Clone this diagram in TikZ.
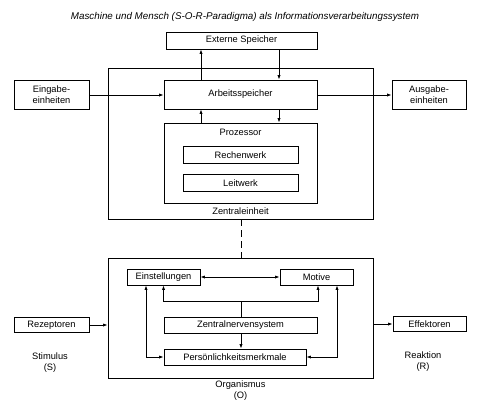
\documentclass[tikz,border=0pt]{standalone}
\usepackage{fontspec}
\setmainfont{Liberation Sans}
\usetikzlibrary{arrows.meta}
\begin{document}
\begin{tikzpicture}[x=1pt,y=-1pt,
  every node/.style={font=\fontsize{9.3}{11}\selectfont, inner sep=0pt},
  box/.style={draw, line width=0.8pt, align=center},
  lbl/.style={align=center},
  conn/.style={line width=0.8pt},
  arr/.style={conn, -{Latex[length=4.5pt,width=3.2pt]}},
  darr/.style={conn, {Latex[length=4.5pt,width=3.2pt]}-{Latex[length=4.5pt,width=3.2pt]}}
]
\useasboundingbox (0,0) rectangle (490,408);
% title
\node[lbl, font=\fontsize{9.8}{11}\selectfont\itshape] (title) at (245,17) {Maschine und Mensch (S-O-R-Paradigma) als Informationsverarbeitungssystem};
% upper part
\node[box, minimum width=151pt, minimum height=17pt] (ext) at (241.5,40.5) {Externe Speicher};
\node[box, minimum width=265pt, minimum height=151pt] (zent) at (240.5,143.5) {};
\node[box, minimum width=75pt, minimum height=29pt] (ein) at (51.5,94.5) {Eingabe-\\einheiten};
\node[box, minimum width=74pt, minimum height=29pt] (aus) at (429,94.5) {Ausgabe-\\einheiten};
\node[box, minimum width=153pt, minimum height=29pt, fill=white] (arb) at (240.5,94.5) {Arbeitsspeicher};
\node[box, minimum width=153pt, minimum height=80pt] (proz) at (240.5,163) {};
\node[lbl] (prozl) at (240.5,132) {Prozessor};
\node[box, minimum width=115pt, minimum height=17pt] (rech) at (240.5,155) {Rechenwerk};
\node[box, minimum width=115pt, minimum height=17pt] (leit) at (240.5,183) {Leitwerk};
\node[lbl] (zentl) at (240.5,211) {Zentraleinheit};
% connectors upper
\draw[arr] (arb.north -| 201,0) -- (ext.south -| 201,0);
\draw[arr] (ext.south -| 279,0) -- (arb.north -| 279,0);
\draw[arr] (proz.north -| 201,0) -- (arb.south -| 201,0);
\draw[arr] (arb.south -| 279,0) -- (proz.north -| 279,0);
\draw[arr] (ein.east |- 0,95) -- (arb.west |- 0,95);
\draw[arr] (arb.east |- 0,95) -- (aus.west |- 0,95);
% lower part
\node[box, minimum width=265pt, minimum height=120pt] (org) at (240.5,318) {};
\draw[conn, dashed, dash pattern=on 7pt off 4pt] (zent.south -| 241,0) -- (org.north -| 241,0);
\node[box, minimum width=73pt, minimum height=16pt] (einst) at (163.5,277) {Einstellungen};
\node[box, minimum width=73pt, minimum height=16pt] (mot) at (316.5,277) {Motive};
\node[box, minimum width=153pt, minimum height=16pt] (zns) at (240.5,325) {Zentralnervensystem};
\node[box, minimum width=142pt, minimum height=16pt] (pers) at (235,357) {Persönlichkeitsmerkmale};
\node[box, minimum width=75pt, minimum height=15pt] (rez) at (51.5,325) {Rezeptoren};
\node[box, minimum width=73pt, minimum height=15pt] (eff) at (429.5,324) {Effektoren};
\node[lbl] (stim) at (50,363) {Stimulus\\(S)};
\node[lbl] (reak) at (423,362) {Reaktion\\(R)};
\node[lbl] (orgl) at (240.5,391) {Organismus\\(O)};
\coordinate (jn) at (241,301);
% connectors lower
\draw[darr] (einst.east) -- (mot.west);
\draw[conn] (zns.north -| jn) -- (jn);
\draw[arr] (jn) -| (einst.south);
\draw[arr] (jn) -| (mot.south -| 318,0);
\draw[darr] (einst.south -| 146,0) |- (pers.west);
\draw[darr] (mot.south -| 337,0) |- (pers.east);
\draw[arr] (zns.south -| 241,0) -- (pers.north -| 241,0);
\draw[arr] (rez.east) -- (org.west |- rez.east);
\draw[arr] (org.east |- eff.west) -- (eff.west);
\end{tikzpicture}
\end{document}
